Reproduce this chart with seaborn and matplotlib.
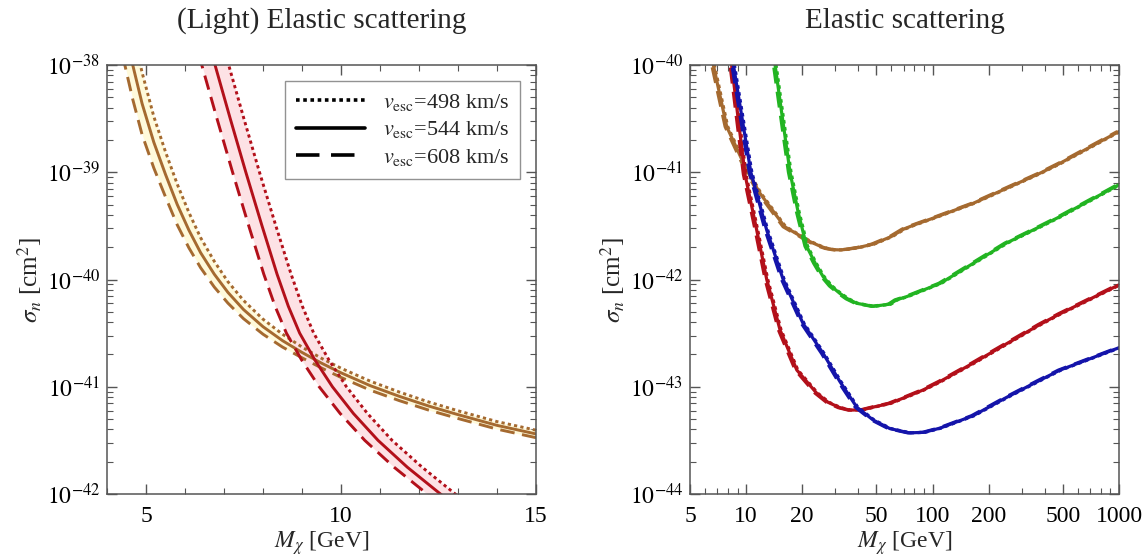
import numpy as np
import matplotlib
matplotlib.use("Agg")
import matplotlib.pyplot as plt
import matplotlib.ticker as mticker
import matplotlib.transforms as mtransforms
from matplotlib.lines import Line2D
import seaborn as sns

# ---- left panel, light DM (M in GeV, values are log10 of sigma_n in cm^2)
brown_m = [4.4, 4.66, 4.9, 5.2, 5.5, 5.8, 6.1, 6.4, 6.75, 7.1, 7.5, 8.0, 8.5, 9.0, 9.5,
           10.0, 10.75, 11.5, 12.25, 13.0, 14.0, 15.0]
brown_solid = [-37.55, -38.0, -38.36, -38.72, -39.02, -39.3, -39.54, -39.75, -39.95, -40.12, -40.28,
               -40.44, -40.57, -40.68, -40.78, -40.87, -40.99, -41.09, -41.18, -41.26, -41.36, -41.44]
brown_dotted = [-37.19, -37.68, -38.07, -38.48, -38.81, -39.11, -39.375, -39.61, -39.83, -40.02, -40.195,
                -40.37, -40.51, -40.63, -40.735, -40.827, -40.948, -41.05, -41.142, -41.224, -41.325, -41.405]
brown_dashed = [-37.91, -38.32, -38.65, -38.96, -39.23, -39.49, -39.705, -39.89, -40.07, -40.22, -40.365,
                -40.51, -40.63, -40.73, -40.825, -40.913, -41.032, -41.13, -41.218, -41.296, -41.395, -41.475]

red_log = [-37.9, -38.0, -38.5, -39.0, -39.5, -39.95, -40.25, -40.5, -40.75, -41.0, -41.25, -41.5,
           -41.75, -42.0, -42.1]
red_solid_m = [6.69, 6.77, 7.16, 7.56, 7.975, 8.36, 8.65, 8.94, 9.33, 9.78, 10.32, 10.95, 11.7, 12.55, 12.9]
red_dotted_m = [7.04, 7.12, 7.51, 7.91, 8.33, 8.72, 9.01, 9.3, 9.69, 10.14, 10.68, 11.31, 12.08, 12.93, 13.28]
red_dashed_m = [6.35, 6.43, 6.82, 7.22, 7.635, 8.02, 8.31, 8.6, 8.99, 9.44, 9.98, 10.61, 11.36, 12.21, 12.56]

vesc = ["498", "544", "608"]
x_ticks_left = [5, 10, 15]
y_ticks_left = [1e-42, 1e-41, 1e-40, 1e-39, 1e-38]

# ---- right panel, elastic scattering
r_brown_m = [6.3, 6.67, 7.87, 10.07, 11.86, 16.1, 22, 25, 27, 29.5, 32, 35, 40, 48, 60, 70, 80,
             100, 165, 249, 376, 482, 1000]
r_brown_log = [-39.8, -40.0, -40.575, -40.979, -41.196, -41.508, -41.647, -41.69, -41.71, -41.722,
               -41.724, -41.718, -41.702, -41.67, -41.6, -41.53, -41.49, -41.43, -41.29, -41.15,
               -41.01, -40.917, -40.62]

r_green_m = [13.8, 14.3, 15.5, 17.2, 19, 21.1, 23.5, 25.9, 28.5, 31.8, 35, 39.2, 48, 59, 64, 72.6,
             110, 165, 249, 376, 482, 1000]
r_green_log = [-39.8, -40.0, -40.44, -41.0, -41.37, -41.69, -41.85, -41.974, -42.06, -42.129, -42.18,
               -42.222, -42.25, -42.23, -42.19, -42.16, -42.036, -41.85, -41.66, -41.508, -41.414, -41.116]

r_red_m = [8.1, 8.36, 9.86, 11.4, 12.9, 15.2, 18.7, 23.9, 27.5, 31.8, 36, 42, 48, 59, 72.6, 89, 110,
           165, 249, 376, 482, 1000]
r_red_log = [-39.8, -40.0, -41.02, -41.54, -42.0, -42.47, -42.844, -43.06, -43.145, -43.195, -43.218,
             -43.215, -43.19, -43.155, -43.093, -43.03, -42.95, -42.78, -42.6, -42.42, -42.32, -42.05]

r_blue_m = [8.3, 8.55, 10.6, 12.9, 15.8, 20.2, 25.9, 31.8, 39.2, 48, 59, 75, 90, 110, 165, 249, 376,
            482, 1000]
r_blue_log = [-39.8, -40.0, -41.0, -41.54, -42.0, -42.41, -42.69, -42.95, -43.19, -43.31, -43.39,
              -43.43, -43.425, -43.385, -43.27, -43.1, -42.94, -42.845, -42.636]

x_ticks_right = [5, 10, 20, 50, 100, 200, 500, 1000]
y_ticks_right = [1e-44, 1e-43, 1e-42, 1e-41, 1e-40]

BROWN = "#a56a30"
RED = "#b3101a"
GREEN = "#22b422"
BLUE = "#1414aa"
PINK = "#fde2e5"
CREAM = "#fffadb"

DOT = (0, (1.1, 1.1))
DASH = (0, (5, 2.6))

sns.set_theme(style="ticks")
plt.rcParams["font.family"] = ["Liberation Serif", "DejaVu Serif"]
plt.rcParams["mathtext.fontset"] = "stix"
plt.rcParams["axes.edgecolor"] = "#555555"
plt.rcParams["xtick.color"] = "#555555"
plt.rcParams["ytick.color"] = "#555555"
plt.rcParams["xtick.labelcolor"] = "black"
plt.rcParams["ytick.labelcolor"] = "black"

fig = plt.figure(figsize=(11.45, 5.6), dpi=100)
ax1 = fig.add_axes([107 / 1145, 66 / 560, 429 / 1145, 429 / 560])
ax2 = fig.add_axes([690 / 1145, 66 / 560, 429 / 1145, 429 / 560])


def sig(v):
    return 10.0 ** np.asarray(v)


def decade_label(v, pos):
    return r"$10^{%d}$" % int(round(np.log10(v)))


def style_axes(ax, yticks):
    ax.yaxis.set_major_locator(mticker.FixedLocator(yticks))
    ax.yaxis.set_major_formatter(mticker.FuncFormatter(decade_label))
    ax.yaxis.set_minor_locator(mticker.LogLocator(base=10, subs=np.arange(2, 10), numticks=20))
    ax.yaxis.set_minor_formatter(mticker.NullFormatter())
    ax.tick_params(which="both", direction="in", top=True, right=True, labelsize=17)
    ax.tick_params(which="major", length=7, width=1)
    ax.tick_params(which="minor", length=4, width=0.8)
    ax.tick_params(axis="x", pad=9)
    ax.tick_params(axis="y", pad=5)
    for s in ax.spines.values():
        s.set_linewidth(1.1)
    ax.set_xlabel(r"$M_\chi$ [GeV]", fontsize=17, labelpad=1)
    ax.set_ylabel(r"$\sigma_n$ [cm$^2$]", fontsize=18, labelpad=2)


# ---------- left panel ----------
ax1.set_yscale("log")
ax1.fill_between(brown_m, sig(brown_dashed), sig(brown_dotted), color=CREAM, lw=0)
ax1.fill_betweenx(sig(red_log), red_dashed_m, red_dotted_m, color=PINK, lw=0)

for vals, ls in [(brown_dotted, DOT), (brown_solid, "-"), (brown_dashed, DASH)]:
    sns.lineplot(x=brown_m, y=sig(vals), ax=ax1, color=BROWN, lw=2.1,
                 linestyle=ls, estimator=None)
for ms, ls in [(red_dotted_m, DOT), (red_solid_m, "-"), (red_dashed_m, DASH)]:
    sns.lineplot(x=ms, y=sig(red_log), ax=ax1, color=RED, lw=2.1,
                 linestyle=ls, estimator=None)

ax1.set_xlim(4, 15)
ax1.set_ylim(1e-42, 1e-38)
ax1.xaxis.set_major_locator(mticker.FixedLocator(x_ticks_left))
ax1.xaxis.set_major_formatter(mticker.FuncFormatter(lambda v, p: f"{v:g}"))
ax1.xaxis.set_minor_locator(mticker.MultipleLocator(1))
style_axes(ax1, y_ticks_left)
ax1.set_title("(Light) Elastic scattering", fontsize=21, pad=27)

handles = [Line2D([], [], color="black", lw=2.6, linestyle=(0, (1.0, 1.0))),
           Line2D([], [], color="black", lw=2.6, linestyle="-"),
           Line2D([], [], color="black", lw=2.6, linestyle=(0, (6.5, 3.2)))]
labels = [r"$v_{\mathrm{esc}}$=" + v + " km/s" for v in vesc]
leg = ax1.legend(handles, labels, loc="upper right", fontsize=16, frameon=True,
                 fancybox=False, edgecolor="#777777", handlelength=3.1,
                 handletextpad=0.8, borderpad=0.5, labelspacing=0.3,
                 borderaxespad=0.7)
leg.get_frame().set_linewidth(1.0)

# ---------- right panel ----------
ax2.set_xscale("log")
ax2.set_yscale("log")
left_shift = mtransforms.ScaledTranslation(-1.6 / 100, 0, fig.dpi_scale_trans)
right_shift = mtransforms.ScaledTranslation(1.0 / 100, 0, fig.dpi_scale_trans)
for ms, vals, col in [(r_brown_m, r_brown_log, BROWN), (r_green_m, r_green_log, GREEN),
                      (r_red_m, r_red_log, RED), (r_blue_m, r_blue_log, BLUE)]:
    for ls, shift in [(DASH, left_shift), (DOT, right_shift), ("-", None)]:
        sns.lineplot(x=ms, y=sig(vals), ax=ax2, color=col, lw=2.3,
                     linestyle=ls, estimator=None)
        if shift is not None:
            ax2.lines[-1].set_transform(ax2.transData + shift)

ax2.set_xlim(5, 1000)
ax2.set_ylim(1e-44, 1e-40)
ax2.xaxis.set_major_locator(mticker.FixedLocator(x_ticks_right))
ax2.xaxis.set_major_formatter(mticker.FuncFormatter(lambda v, p: f"{v:g}"))
ax2.xaxis.set_minor_locator(mticker.LogLocator(base=10, subs=np.arange(1, 10), numticks=20))
ax2.xaxis.set_minor_formatter(mticker.NullFormatter())
style_axes(ax2, y_ticks_right)
ax2.set_title("Elastic scattering", fontsize=21, pad=27)

fig.savefig("out.png", dpi=100)
